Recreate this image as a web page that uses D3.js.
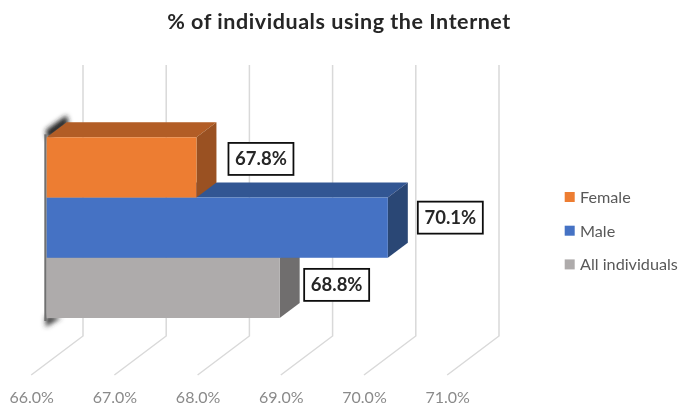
<!DOCTYPE html>
<html>
<head>
<meta charset="utf-8">
<script src="https://cdn.jsdelivr.net/npm/d3@7"></script>
<style>
  html, body { margin: 0; padding: 0; background: #fff; overflow: hidden; }
  text { font-family: Lato, "Open Sans", sans-serif; }
</style>
</head>
<body>
<svg id="chart"></svg>
<script>
// chart data
const categories = ["Female", "Male", "All individuals"];
const values = [67.8, 70.1, 68.8];
const tickValues = [66, 67, 68, 69, 70, 71];
const frontColors = ["#ED7D31", "#4472C4", "#AEABAB"];
const topColors = ["#B25D25", "#335693", "#838181"];
const sideColors = ["#9A5120", "#2A4675", "#6F6E6E"];

const width = 679, height = 404;
const depthX = 20, depthY = 15;   // 3d offset of the back wall
const labelGapX = [32, 30, 24.5];
const labelGapY = [-8.5, -10, -3];

const svg = d3.select("#chart").attr("width", width).attr("height", height);

const x = d3.scaleLinear().domain([66, 71]).range([46.7, 462.7]);
const y = d3.scaleBand().domain(categories).range([137.3, 318]);

const defs = svg.append("defs");
defs.append("filter").attr("id", "soft").append("feGaussianBlur").attr("stdDeviation", 0.45);
defs.append("filter").attr("id", "wallBlur")
    .attr("x", "-100%").attr("width", "300%")
    .attr("y", "-50%").attr("height", "200%")
    .append("feGaussianBlur").attr("stdDeviation", 2.6);

const root = svg.append("g").attr("filter", "url(#soft)");

// title
root.append("text")
    .attr("x", 339).attr("y", 28.5)
    .attr("text-anchor", "middle")
    .attr("font-size", 21.5).attr("font-weight", 700)
    .attr("letter-spacing", 0.55)
    .attr("fill", "#262626")
    .text("% of individuals using the Internet");

// gridlines: wall part + floor part
const floorFront = 375, floorBack = 336, gridTop = 65;
const grid = root.append("g").attr("fill", "none").attr("stroke", "#D9D9D9").attr("stroke-width", 1.5);
grid.selectAll("path")
    .data(tickValues)
    .join("path")
    .attr("d", d => {
        const p = d3.path();
        p.moveTo(x(d) - 15.5, floorFront);
        p.lineTo(x(d) + 36.3, floorBack);
        p.lineTo(x(d) + 36.3, gridTop);
        return p.toString();
    });

// tick labels
root.append("g").selectAll("text")
    .data(tickValues)
    .join("text")
    .attr("x", d => x(d) - 15)
    .attr("y", 402.5)
    .attr("text-anchor", "middle")
    .attr("font-size", 16)
    .attr("fill", "#8A8A8A")
    .text(d => d3.format(".1f")(d) + "%");

// dark shadow along the axis wall
const wallTop = d3.path();
wallTop.moveTo(x(66) - 1, y.range()[0] - 7);
wallTop.lineTo(x(66) + depthX, y.range()[0] - depthY - 7);
wallTop.lineTo(x(66) + depthX + 2, y.range()[0] - depthY + 2);
wallTop.lineTo(x(66) + 1, y.range()[0] + 3);
wallTop.closePath();
root.append("path")
    .attr("d", wallTop.toString())
    .attr("fill", "#222")
    .attr("filter", "url(#wallBlur)");

const wallBottom = d3.path();
wallBottom.moveTo(x(66) - 1, y.range()[1] - 2);
wallBottom.lineTo(x(66) + 15, y.range()[1] - 1);
wallBottom.lineTo(x(66) - 1, y.range()[1] + 9);
wallBottom.closePath();
root.append("path")
    .attr("d", wallBottom.toString())
    .attr("fill", "#3a3a3a")
    .attr("filter", "url(#wallBlur)");

root.append("line")
    .attr("x1", x(66) - 1.2).attr("x2", x(66) - 1.2)
    .attr("y1", y.range()[0] - 3).attr("y2", y.range()[1] + 3)
    .attr("stroke", "#707070").attr("stroke-width", 2.4);

// bars, bottom row first so that upper ones overlap properly
const order = d3.range(categories.length).reverse();
const bars = root.append("g").selectAll("g")
    .data(order)
    .join("g");

bars.append("path")
    .attr("fill", i => topColors[i])
    .attr("d", i => {
        const x0 = x(66), x1 = x(values[i]), t = y(categories[i]);
        return `M${x0},${t}L${x0 + depthX},${t - depthY}L${x1 + depthX},${t - depthY}L${x1},${t}Z`;
    });

bars.append("path")
    .attr("fill", i => sideColors[i])
    .attr("d", i => {
        const x1 = x(values[i]), t = y(categories[i]), b = t + y.bandwidth();
        return `M${x1},${t}L${x1 + depthX},${t - depthY}L${x1 + depthX},${b - depthY}L${x1},${b}Z`;
    });

bars.append("rect")
    .attr("x", x(66))
    .attr("y", i => y(categories[i]))
    .attr("width", i => x(values[i]) - x(66))
    .attr("height", y.bandwidth())
    .attr("fill", i => frontColors[i]);

// data labels
const labels = root.append("g").selectAll("g")
    .data(order)
    .join("g")
    .attr("transform", i => `translate(${x(values[i]) + labelGapX[i]},${y(categories[i]) + y.bandwidth() / 2 + labelGapY[i]})`);

labels.append("rect")
    .attr("x", 0).attr("y", -16)
    .attr("width", 65).attr("height", 32)
    .attr("fill", "#fff").attr("stroke", "#111").attr("stroke-width", 1.8);

labels.append("text")
    .attr("x", 32.5).attr("y", 6.5)
    .attr("text-anchor", "middle")
    .attr("font-size", 18.5).attr("font-weight", 700)
    .attr("fill", "#262626")
    .text(i => values[i].toFixed(1) + "%");

// legend
const legend = root.append("g").selectAll("g")
    .data(categories)
    .join("g")
    .attr("transform", (d, i) => `translate(564.7,${197 + i * 33.7})`);

legend.append("rect")
    .attr("x", 0).attr("y", -5)
    .attr("width", 10).attr("height", 10)
    .attr("fill", (d, i) => frontColors[i]);

legend.append("text")
    .attr("x", 15.3).attr("y", 6)
    .attr("font-size", 16.2)
    .attr("fill", "#595959")
    .text(d => d);
</script>
</body>
</html>
